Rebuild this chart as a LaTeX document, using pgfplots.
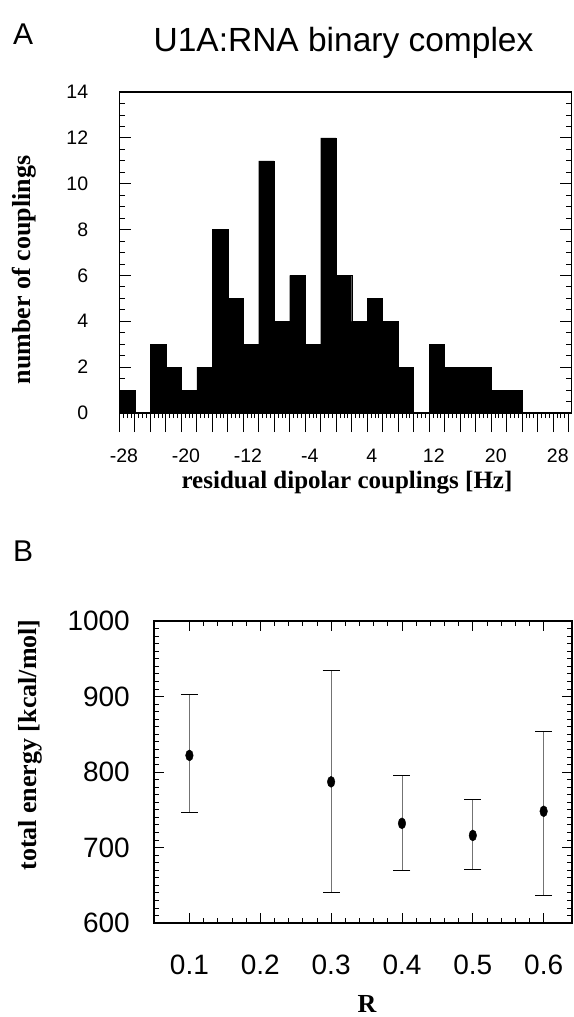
\documentclass[border=0pt]{standalone}
\usepackage{pgfplots}
\pgfplotsset{compat=1.18}
\usepackage{fontspec}
\setmainfont{Liberation Sans}
\newfontfamily\tnr{Liberation Serif}

\begin{document}
\begin{tikzpicture}[x=1pt,y=1pt]
\useasboundingbox (0,0) rectangle (573,-1017);

% panel letters, title, axis labels
\node[anchor=base west, inner sep=0pt, font=\fontsize{30}{30}\selectfont] at (13,-44) {A};
\node[anchor=base, inner sep=0pt, font=\fontsize{33.5}{33.5}\selectfont] at (343.5,-51) {U1A:RNA binary complex};
\node[anchor=base west, inner sep=0pt, font=\fontsize{30}{30}\selectfont] at (13,-561) {B};
\node[rotate=90, inner sep=0pt, font=\tnr\bfseries\fontsize{26}{26}\selectfont] at (24,-270) {number of couplings};
\node[anchor=base, inner sep=0pt, font=\tnr\bfseries\fontsize{25}{25}\selectfont] at (347,-488) {residual dipolar couplings [Hz]};
\node[rotate=90, inner sep=0pt, font=\tnr\bfseries\fontsize{26}{26}\selectfont] at (30,-745) {total energy [kcal/mol]};
\node[anchor=base, inner sep=0pt, font=\tnr\bfseries\fontsize{26}{26}\selectfont] at (367,-1012) {R};

% A: histogram
\begin{axis}[
  at={(119.3pt,-413pt)}, anchor=south west,
  scale only axis, width=452.4pt, height=321pt,
  xmin=-28.6, xmax=29.8, ymin=0, ymax=14,
  axis line style={line width=1.5pt},
  xtick=\empty,
  ytick={0,2,...,14}, yticklabels={0,2,4,6,8,10,12,14},
  minor y tick num=3,
  tick align=inside, ytick pos=both, yticklabel pos=left,
  major tick length=12pt, minor tick length=6pt,
  tick style={black, line width=0.8pt},
  yticklabel style={anchor=east, inner sep=0pt, xshift=-31pt, font=\fontsize{19.5}{19.5}\selectfont},
]
\addplot[ybar interval, fill=black, draw=black] coordinates {
  (-28.6,1) (-26.6,0) (-24.6,3) (-22.6,2) (-20.6,1) (-18.6,2)
  (-16.6,8) (-14.6,5) (-12.6,3) (-10.6,11) (-8.6,4) (-6.6,6)
  (-4.6,3) (-2.6,12) (-0.6,6) (1.4,4) (3.4,5) (5.4,4)
  (7.4,2) (9.4,0) (11.4,3) (13.4,2) (15.4,2) (17.4,2)
  (19.4,1) (21.4,1) (23.4,0)
};
\end{axis}

% A: outside ticks along the bottom
\begin{axis}[
  at={(119.3pt,-413pt)}, anchor=south west,
  scale only axis, width=452.4pt, height=321pt,
  xmin=-28.6, xmax=29.8, ymin=0, ymax=14,
  axis line style={draw=none},
  ytick=\empty,
  xtick={-28,-20,...,28}, xticklabels={-28,-20,-12,-4,4,12,20,28},
  major tick length=0pt,
  minor xtick={-28.6,-28.1,...,29.8},
  minor tick length=5pt,
  extra x ticks={-28.6,-26.6,...,29.4},
  extra x tick style={major tick length=19pt, xticklabel={}},
  tick align=outside, xtick pos=left,
  tick style={black, line width=0.8pt},
  xticklabel style={anchor=north, inner sep=0pt, yshift=-36pt, font=\fontsize{19.5}{19.5}\selectfont},
]
\end{axis}

% B: energies with error bars
\begin{axis}[
  at={(154pt,-923pt)}, anchor=south west,
  scale only axis, width=418pt, height=302pt,
  xmin=0.05, xmax=0.64, ymin=600, ymax=1000,
  axis line style={line width=1.2pt},
  xtick={0.1,0.2,...,0.6}, xticklabels={0.1,0.2,0.3,0.4,0.5,0.6},
  ytick={600,700,...,1000}, yticklabels={600,700,800,900,1000},
  minor x tick num=4, minor y tick num=9,
  tick align=inside, xtick pos=both, ytick pos=both,
  xticklabel pos=left, yticklabel pos=left,
  major tick length=10pt, minor tick length=5pt,
  tick style={black, line width=0.8pt},
  xticklabel style={anchor=north, inner sep=0pt, yshift=-32pt, font=\fontsize{28}{28}\selectfont},
  yticklabel style={anchor=east, inner sep=0pt, xshift=-24pt, font=\fontsize{28}{28}\selectfont},
]
\addplot[only marks, mark=*, mark size=3.8pt, mark options={yscale=1.45},
  error bars/.cd, y dir=both, y explicit,
  error bar style={black!55, line width=0.7pt},
  error mark options={rotate=90, black, line width=1pt, mark size=8.5pt}]
  coordinates {
  (0.1,822) += (0,81)  -= (0,75)
  (0.3,787) += (0,147) -= (0,146)
  (0.4,732) += (0,63)  -= (0,63)
  (0.5,716) += (0,48)  -= (0,45)
  (0.6,748) += (0,105) -= (0,112)
};
\end{axis}
\end{tikzpicture}
\end{document}
